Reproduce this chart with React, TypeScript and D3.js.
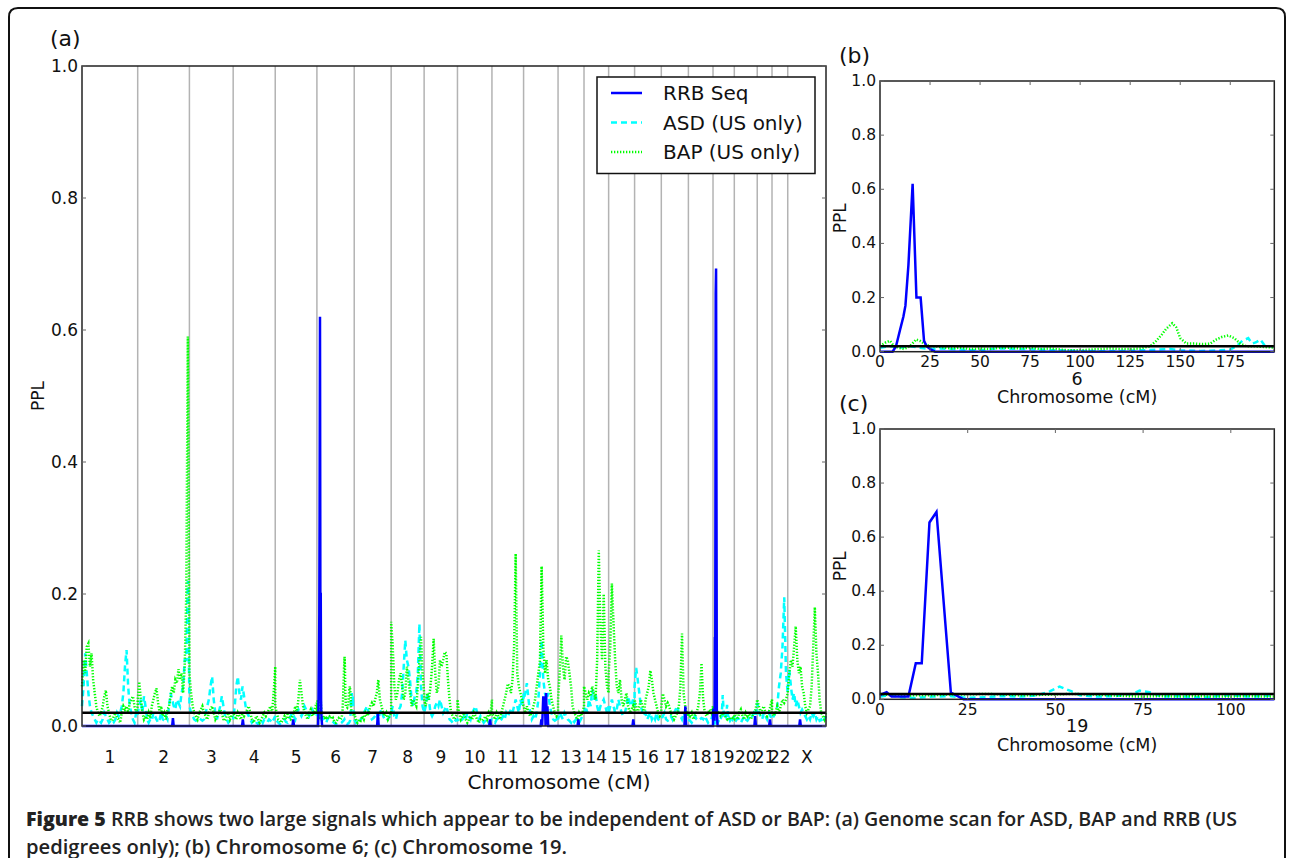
import React from 'react';
import * as d3 from 'd3';

// ---------------- DATA ----------------
const CHROMS = ['1','2','3','4','5','6','7','8','9','10','11','12','13','14','15','16','17','18','19','20','21','22','X'];
const CHROM_LEN = [294,273,231,222,220,197,195,174,176,182,167,182,137,130,137,141,143,130,112.4,121,78,83,202];
const Y_TICKS = [0, 0.2, 0.4, 0.6, 0.8, 1.0];
const B_XTICKS = [0, 25, 50, 75, 100, 125, 150, 175];
const C_XTICKS = [0, 25, 50, 75, 100];
const THRESHOLD = 0.02;
const SERIES = ['RRB Seq', 'ASD (US only)', 'BAP (US only)'];

// Chromosome 6 detail (panel b), cM / PPL
const CHR6_RRB_X = [0,6.3,8,10,11.7,12.7,14.2,16.3,18.2,20.3,22,23.3,25,27.5,197];
const CHR6_RRB_Y = [0,0,0.02,0.08,0.13,0.17,0.32,0.62,0.2,0.2,0.04,0.02,0.01,0,0];
const CHR6_BAP_X = [0,3,5,7,9,12,15,18,20,22,25,28,32,36,40,45,50,55,60,65,70,75,80,85,90,95,100,105,110,115,120,125,130,135,138,141,143,146,148,150,153,157,161,165,168,171,174,177,180,183,187,191,197];
const CHR6_BAP_Y = [0.02,0.035,0.04,0.02,0.015,0.01,0.02,0.045,0.04,0.03,0.02,0.02,0.015,0.012,0.015,0.01,0.012,0.01,0.015,0.015,0.012,0.015,0.01,0.012,0.008,0.005,0.005,0.008,0.01,0.012,0.01,0.01,0.012,0.02,0.04,0.065,0.085,0.105,0.09,0.05,0.03,0.03,0.028,0.03,0.045,0.055,0.06,0.05,0.03,0.02,0.02,0.018,0.015];
const CHR6_ASD_X = [0,5,10,15,20,25,30,40,50,55,60,70,80,90,100,110,120,130,140,145,150,160,170,175,178,181,184,186,188,190,192,194,197];
const CHR6_ASD_Y = [0.015,0.02,0.015,0.02,0.015,0.01,0.012,0.008,0.005,0.01,0.012,0.01,0.008,0.005,0.003,0.002,0.003,0.005,0.008,0.01,0.005,0.003,0.005,0.008,0.02,0.04,0.05,0.03,0.035,0.045,0.025,0.02,0.02];

// Chromosome 19 detail (panel c)
const CHR19_RRB_X = [0,1.9,3.3,8.1,10.2,11.9,14.1,16.1,20.2,23.8,112.4];
const CHR19_RRB_Y = [0.016,0.026,0.01,0.01,0.133,0.133,0.654,0.693,0.025,0,0];
const CHR19_BAP_X = [0,3,6,10,15,20,25,30,35,40,45,50,55,60,65,70,75,80,85,90,95,100,105,110,112.4];
const CHR19_BAP_Y = [0.02,0.015,0.012,0.015,0.015,0.018,0.018,0.02,0.018,0.015,0.016,0.018,0.02,0.018,0.015,0.012,0.01,0.012,0.01,0.012,0.01,0.01,0.012,0.01,0.01];
const CHR19_ASD_X = [0,3,6,10,15,20,25,30,35,40,45,48.5,51.2,54.5,57,62,67,72,74,77.5,80,85,90,95,100,105,110,112.4];
const CHR19_ASD_Y = [0.01,0.015,0.008,0.005,0.01,0.012,0.005,0.008,0.012,0.01,0.015,0.03,0.047,0.03,0.015,0.01,0.012,0.02,0.032,0.025,0.01,0.012,0.008,0.01,0.015,0.01,0.012,0.015];

// Genome scan (panel a): values evenly spaced along each chromosome (chr6, chr19 use detail above)
const BAP_A: number[][] = [
  [0.06,0.1,0.08,0.12,0.125,0.09,0.11,0.07,0.05,0.03,0.02,0.015,0.02,0.03,0.045,0.054,0.03,0.02,0.01,0.008,0.015,0.02,0.012,0.01,0.005,0.02,0.03,0.025,0.03,0.02,0.035,0.04,0.045,0.03,0.02,0.03],
  [0.04,0.067,0.04,0.02,0.01,0.015,0.01,0.02,0.012,0.03,0.04,0.05,0.057,0.035,0.02,0.03,0.015,0.02,0.01,0.025,0.03,0.045,0.06,0.05,0.07,0.065,0.086,0.07,0.08,0.05,0.09,0.2,0.59,0.09],
  [0.08,0.05,0.03,0.02,0.015,0.01,0.02,0.025,0.03,0.02,0.015,0.01,0.02,0.025,0.03,0.02,0.01,0.015,0.02,0.025,0.02,0.01,0.008,0.015,0.02,0.01,0.015,0.02],
  [0.02,0.015,0.01,0.02,0.015,0.01,0.02,0.015,0.02,0.025,0.03,0.02,0.01,0.005,0.01,0.015,0.01,0.005,0.01,0.015,0.02,0.015,0.02,0.025,0.03,0.02,0.05,0.09],
  [0.03,0.02,0.01,0.008,0.005,0.01,0.015,0.01,0.02,0.012,0.01,0.015,0.02,0.03,0.02,0.04,0.07,0.05,0.03,0.02,0.015,0.01,0.02,0.025,0.015,0.02,0.03,0.035],
  [],
  [0.02,0.01,0.005,0.01,0.008,0.015,0.01,0.02,0.015,0.02,0.03,0.035,0.03,0.04,0.05,0.07,0.04,0.03,0.02,0.015,0.02,0.01,0.015,0.02],
  [0.158,0.12,0.06,0.04,0.05,0.07,0.08,0.06,0.04,0.05,0.09,0.07,0.05,0.03,0.04,0.035,0.03,0.06,0.1,0.135,0.08,0.05],
  [0.04,0.03,0.05,0.04,0.06,0.09,0.132,0.08,0.05,0.06,0.1,0.09,0.1,0.112,0.11,0.07,0.04,0.02,0.015,0.01,0.015,0.02],
  [0.04,0.02,0.01,0.015,0.02,0.01,0.005,0.01,0.015,0.01,0.02,0.015,0.01,0.005,0.01,0.008,0.01,0.015,0.01,0.02,0.015,0.04],
  [0.02,0.015,0.01,0.02,0.015,0.01,0.02,0.03,0.04,0.05,0.064,0.06,0.05,0.07,0.12,0.261,0.08,0.06,0.05,0.04,0.03],
  [0.03,0.02,0.03,0.02,0.015,0.02,0.03,0.04,0.06,0.08,0.1,0.242,0.12,0.08,0.1,0.07,0.06,0.04,0.03,0.02,0.015,0.02],
  [0.04,0.08,0.137,0.09,0.07,0.105,0.1,0.08,0.06,0.03,0.02,0.015,0.01,0.02,0.015,0.02,0.03],
  [0.06,0.05,0.04,0.05,0.045,0.06,0.05,0.04,0.1,0.266,0.15,0.1,0.2,0.09,0.06,0.05],
  [0.08,0.12,0.216,0.155,0.1,0.06,0.05,0.07,0.04,0.03,0.04,0.05,0.03,0.02,0.025,0.03,0.02],
  [0.04,0.03,0.02,0.03,0.04,0.03,0.02,0.04,0.05,0.06,0.084,0.07,0.05,0.04,0.03,0.02,0.015,0.02],
  [0.03,0.049,0.04,0.03,0.035,0.03,0.02,0.015,0.01,0.015,0.02,0.03,0.06,0.14,0.05,0.03,0.02,0.015],
  [0.02,0.015,0.02,0.01,0.015,0.02,0.03,0.05,0.095,0.04,0.02,0.015,0.02,0.025,0.02,0.03],
  [],
  [0.02,0.015,0.01,0.02,0.025,0.015,0.01,0.02,0.015,0.02,0.01,0.015,0.02,0.025,0.04],
  [0.04,0.03,0.02,0.025,0.03,0.02,0.015,0.02,0.03,0.04],
  [0.02,0.015,0.02,0.03,0.02,0.03,0.04,0.035,0.04,0.05],
  [0.05,0.08,0.1,0.09,0.12,0.151,0.1,0.08,0.09,0.06,0.05,0.03,0.02,0.025,0.03,0.06,0.12,0.18,0.11,0.08,0.04,0.02,0.015,0.01,0.02],
];
const ASD_A: number[][] = [
  [0.03,0.06,0.11,0.08,0.05,0.03,0.02,0.015,0.01,0.005,0.01,0.008,0.005,0.01,0.02,0.015,0.01,0.005,0.008,0.01,0.006,0.01,0.02,0.015,0.02,0.03,0.05,0.09,0.115,0.06,0.03,0.02,0.01,0.005,0.02,0.015],
  [0.02,0.03,0.04,0.02,0.045,0.03,0.01,0.005,0.01,0.008,0.02,0.015,0.01,0.005,0.01,0.02,0.01,0.008,0.015,0.01,0.03,0.05,0.04,0.03,0.025,0.04,0.035,0.03,0.05,0.06,0.1,0.1,0.22,0.04],
  [0.03,0.02,0.015,0.01,0.008,0.01,0.012,0.01,0.008,0.01,0.02,0.03,0.04,0.06,0.075,0.04,0.02,0.01,0.02,0.03,0.045,0.03,0.015,0.01,0.005,0.008,0.01,0.015],
  [0.01,0.03,0.06,0.075,0.05,0.04,0.06,0.045,0.03,0.02,0.015,0.01,0.005,0.008,0.01,0.005,0.003,0.008,0.01,0.005,0.01,0.008,0.006,0.01,0.008,0.005,0.01,0.015],
  [0.01,0.008,0.005,0.003,0.005,0.008,0.01,0.006,0.005,0.01,0.015,0.02,0.015,0.01,0.02,0.025,0.02,0.015,0.02,0.03,0.025,0.02,0.015,0.02,0.025,0.02,0.015,0.02],
  [],
  [0.01,0.005,0.008,0.005,0.01,0.012,0.02,0.025,0.03,0.02,0.015,0.01,0.012,0.015,0.02,0.01,0.02,0.025,0.015,0.01,0.008,0.01,0.015,0.02],
  [0.02,0.03,0.015,0.01,0.02,0.025,0.03,0.05,0.09,0.13,0.1,0.09,0.07,0.04,0.03,0.045,0.05,0.08,0.155,0.06,0.03,0.02],
  [0.02,0.03,0.05,0.04,0.02,0.015,0.02,0.03,0.035,0.03,0.04,0.03,0.02,0.025,0.03,0.02,0.01,0.008,0.005,0.01,0.008,0.01],
  [0.01,0.005,0.008,0.01,0.015,0.01,0.02,0.015,0.01,0.02,0.025,0.03,0.02,0.01,0.015,0.01,0.005,0.008,0.01,0.005,0.008,0.01],
  [0.01,0.008,0.005,0.01,0.012,0.008,0.01,0.015,0.01,0.02,0.015,0.02,0.025,0.02,0.03,0.04,0.03,0.02,0.04,0.03,0.05],
  [0.04,0.05,0.065,0.04,0.02,0.01,0.015,0.01,0.02,0.04,0.08,0.13,0.07,0.05,0.04,0.05,0.03,0.02,0.01,0.008,0.01,0.015],
  [0.01,0.02,0.015,0.01,0.02,0.015,0.01,0.008,0.005,0.01,0.006,0.01,0.008,0.005,0.01,0.015,0.02],
  [0.02,0.03,0.02,0.04,0.03,0.055,0.04,0.05,0.03,0.02,0.03,0.035,0.04,0.03,0.02,0.03],
  [0.02,0.03,0.04,0.03,0.02,0.025,0.04,0.03,0.02,0.015,0.02,0.03,0.045,0.035,0.03,0.04,0.03],
  [0.06,0.088,0.07,0.05,0.03,0.02,0.015,0.02,0.01,0.015,0.02,0.01,0.015,0.01,0.02,0.01,0.008,0.01],
  [0.01,0.015,0.02,0.01,0.008,0.01,0.015,0.01,0.02,0.025,0.03,0.02,0.015,0.01,0.02,0.015,0.01,0.02],
  [0.01,0.008,0.005,0.01,0.015,0.01,0.008,0.01,0.012,0.01,0.015,0.01,0.005,0.008,0.01,0.02],
  [],
  [0.01,0.008,0.012,0.01,0.005,0.01,0.015,0.01,0.008,0.012,0.01,0.015,0.02,0.015,0.035],
  [0.035,0.02,0.015,0.01,0.02,0.015,0.01,0.02,0.015,0.01],
  [0.01,0.015,0.02,0.03,0.06,0.08,0.12,0.195,0.08,0.05],
  [0.06,0.085,0.06,0.04,0.05,0.03,0.04,0.03,0.02,0.025,0.02,0.015,0.01,0.015,0.01,0.02,0.015,0.02,0.01,0.015,0.008,0.01,0.005,0.01,0.015],
];
// RRB in panel a: [cM, PPL] pairs per chromosome (chr6, chr19 use detail above)
const RRB_A: number[][][] = [
  [[0,0],[294,0]],
  [[0,0],[182,0],[186,0.012],[190,0],[273,0]],
  [[0,0],[231,0]],
  [[0,0],[47,0],[51,0.01],[55,0],[222,0]],
  [[0,0],[91,0],[95,0.01],[99,0],[220,0]],
  [],
  [[0,0],[121,0],[125,0.02],[129,0],[195,0]],
  [[0,0],[174,0]],
  [[0,0],[176,0]],
  [[0,0],[168,0],[172,0.01],[176,0],[182,0]],
  [[0,0],[167,0]],
  [[0,0],[90,0],[94,0.01],[98,0],[104,0.045],[108,0.02],[112,0.045],[116,0],[119,0.05],[122,0.01],[126,0.03],[130,0],[182,0]],
  [[0,0],[103,0],[107,0.01],[111,0],[137,0]],
  [[0,0],[130,0]],
  [[0,0],[126,0],[130,0.01],[134,0],[137,0]],
  [[0,0],[141,0]],
  [[0,0],[122,0],[127,0.03],[131,0],[143,0]],
  [[0,0],[130,0]],
  [],
  [[0,0],[106,0],[110,0.015],[114,0],[121,0]],
  [[0,0],[63,0],[67,0.01],[71,0],[78,0]],
  [[0,0],[83,0]],
  [[0,0],[61,0],[65,0.01],[69,0],[202,0]],
];

const CAPTION_1_BOLD = 'Figure 5';
const CAPTION_1 = ' RRB shows two large signals which appear to be independent of ASD or BAP: (a) Genome scan for ASD, BAP and RRB (US';
const CAPTION_2 = 'pedigrees only); (b) Chromosome 6; (c) Chromosome 19.';

// ---------------- STYLE ----------------
const COL = { rrb: '#0000ff', asd: '#00ffff', bap: '#00ff00' };
const DASH = { rrb: undefined as string | undefined, asd: '6,4', bap: '1.3,1.7' };
const LW = 2.5;
const FONT = 'DejaVu Sans, sans-serif';

const A = { left: 82, right: 826, top: 66, bottom: 726 };
const B = { left: 880, right: 1274.3, top: 81, bottom: 351.7 };
const C = { left: 880, right: 1274.3, top: 429, bottom: 699.3 };

const zip = (xs: number[], ys: number[]) => xs.map((x, i) => [x, ys[i]] as [number, number]);

function Zoom({ box, len, ticks, rrb, asd, bap, label, chromLabel }: any) {
  const x = d3.scaleLinear().domain([0, len]).range([box.left, box.right]);
  const y = d3.scaleLinear().domain([0, 1]).range([box.bottom, box.top]);
  const line = d3.line<[number, number]>().x(d => x(d[0])).y(d => y(d[1]));
  const cx = (box.left + box.right) / 2;
  return (
    <g fontFamily={FONT} fill="#111">
      <rect x={box.left} y={box.top} width={box.right - box.left} height={box.bottom - box.top} fill="#fff" />
      <path d={line(asd) || ''} fill="none" stroke={COL.asd} strokeWidth={LW} strokeDasharray={DASH.asd} />
      <path d={line(bap) || ''} fill="none" stroke={COL.bap} strokeWidth={LW} strokeDasharray={DASH.bap} />
      <path d={line(rrb) || ''} fill="none" stroke={COL.rrb} strokeWidth={LW} />
      <line x1={box.left} x2={box.right} y1={y(THRESHOLD)} y2={y(THRESHOLD)} stroke="#000" strokeWidth={2.5} />
      <rect x={box.left} y={box.top} width={box.right - box.left} height={box.bottom - box.top} fill="none" stroke="#222" strokeWidth={1.5} />
      {Y_TICKS.map(t => (
        <g key={'y' + t}>
          <line x1={box.left} x2={box.left + 4} y1={y(t)} y2={y(t)} stroke="#666" />
          <line x1={box.right} x2={box.right - 4} y1={y(t)} y2={y(t)} stroke="#666" />
          <text x={box.left - 4} y={y(t)} textAnchor="end" dominantBaseline="central" fontSize={15.5}>{t.toFixed(1)}</text>
        </g>
      ))}
      {ticks.map((t: number) => (
        <g key={'x' + t}>
          <line x1={x(t)} x2={x(t)} y1={box.bottom} y2={box.bottom - 4} stroke="#666" />
          <line x1={x(t)} x2={x(t)} y1={box.top} y2={box.top + 4} stroke="#666" />
          <text x={x(t)} y={box.bottom + 10.5} textAnchor="middle" dominantBaseline="central" fontSize={15.5}>{t}</text>
        </g>
      ))}
      <text x={cx} y={box.bottom + 27} textAnchor="middle" dominantBaseline="central" fontSize={17.5}>{chromLabel}</text>
      <text x={cx} y={box.bottom + 45.5} textAnchor="middle" dominantBaseline="central" fontSize={17.5}>Chromosome (cM)</text>
      <text transform={`translate(${box.left - 40},${(box.top + box.bottom) / 2 + 2}) rotate(-90)`} textAnchor="middle" dominantBaseline="central" fontSize={17}>PPL</text>
      <text x={box.left - 41} y={box.top - 26} dominantBaseline="central" fontSize={22}>{label}</text>
    </g>
  );
}

export default function App() {
  const starts = [0, ...d3.cumsum(CHROM_LEN)];
  const total = starts[CHROM_LEN.length];
  const xA = d3.scaleLinear().domain([0, total]).range([A.left, A.right]);
  const yA = d3.scaleLinear().domain([0, 1]).range([A.bottom, A.top]);
  const lineA = d3.line<[number, number]>().x(d => xA(d[0])).y(d => yA(d[1]));

  const spread = (vals: number[], len: number) => vals.map((v, i) => [(i / (vals.length - 1)) * len, v] as [number, number]);
  const genome = (kind: 'rrb' | 'asd' | 'bap') => {
    const pts: [number, number][] = [];
    CHROM_LEN.forEach((len, c) => {
      let local: [number, number][];
      if (c === 5) local = kind === 'rrb' ? zip(CHR6_RRB_X, CHR6_RRB_Y) : kind === 'asd' ? zip(CHR6_ASD_X, CHR6_ASD_Y) : zip(CHR6_BAP_X, CHR6_BAP_Y);
      else if (c === 18) local = kind === 'rrb' ? zip(CHR19_RRB_X, CHR19_RRB_Y) : kind === 'asd' ? zip(CHR19_ASD_X, CHR19_ASD_Y) : zip(CHR19_BAP_X, CHR19_BAP_Y);
      else if (kind === 'rrb') local = RRB_A[c].map(p => [p[0], p[1]] as [number, number]);
      else local = spread(kind === 'asd' ? ASD_A[c] : BAP_A[c], len);
      local.forEach(p => pts.push([starts[c] + p[0], p[1]]));
    });
    return pts;
  };

  const legendX = 597, legendY = 77;
  return (
    <svg width={1290} height={858} style={{ position: 'absolute', left: 0, top: 0, background: '#fff' }} fontFamily={FONT}>
      <rect width={1290} height={858} fill="#fff" />
      <path d="M9,880 L9,17 Q9,8 18,8 L1276,8 Q1285,8 1285,17 L1285,880" fill="none" stroke="#111" strokeWidth={2} />

      {/* Panel a */}
      <g>
        {starts.slice(1, CHROM_LEN.length).map((s, i) => (
          <line key={'g' + i} x1={xA(s)} x2={xA(s)} y1={A.top} y2={A.bottom} stroke="#b3b3b3" strokeWidth={1.5} />
        ))}
        <path d={lineA(genome('asd')) || ''} fill="none" stroke={COL.asd} strokeWidth={LW} strokeDasharray={DASH.asd} />
        <path d={lineA(genome('bap')) || ''} fill="none" stroke={COL.bap} strokeWidth={LW} strokeDasharray={DASH.bap} />
        <path d={lineA(genome('rrb')) || ''} fill="none" stroke={COL.rrb} strokeWidth={LW} />
        <line x1={A.left} x2={A.right} y1={yA(THRESHOLD)} y2={yA(THRESHOLD)} stroke="#000" strokeWidth={2.5} />
        <rect x={A.left} y={A.top} width={A.right - A.left} height={A.bottom - A.top} fill="none" stroke="#222" strokeWidth={1.5} />
        {Y_TICKS.map(t => (
          <g key={'ya' + t}>
            <line x1={A.left} x2={A.left + 4} y1={yA(t)} y2={yA(t)} stroke="#666" />
            <line x1={A.right} x2={A.right - 4} y1={yA(t)} y2={yA(t)} stroke="#666" />
            <text x={A.left - 4} y={yA(t)} textAnchor="end" dominantBaseline="central" fontSize={17} fill="#111">{t.toFixed(1)}</text>
          </g>
        ))}
        {CHROMS.map((c, i) => (
          <text key={'c' + c} x={xA(starts[i] + CHROM_LEN[i] / 2)} y={757} textAnchor="middle" dominantBaseline="central" fontSize={17} fill="#111">{c}</text>
        ))}
        <text x={559} y={782} textAnchor="middle" dominantBaseline="central" fontSize={20} fill="#111">Chromosome (cM)</text>
        <text transform={`translate(38,396) rotate(-90)`} textAnchor="middle" dominantBaseline="central" fontSize={17} fill="#111">PPL</text>
        <text x={50} y={38} dominantBaseline="central" fontSize={22} fill="#111">(a)</text>

        {/* legend */}
        <rect x={legendX} y={legendY} width={218} height={96.5} fill="#fff" stroke="#111" strokeWidth={1.5} />
        {(['rrb', 'asd', 'bap'] as const).map((k, i) => (
          <g key={k}>
            <line x1={legendX + 14} x2={legendX + 45} y1={legendY + 16 + i * 29.5} y2={legendY + 16 + i * 29.5} stroke={COL[k]} strokeWidth={LW} strokeDasharray={DASH[k]} />
            <text x={legendX + 66} y={legendY + 16 + i * 29.5} dominantBaseline="central" fontSize={20} fill="#111">{SERIES[i]}</text>
          </g>
        ))}
      </g>

      <Zoom box={B} len={CHROM_LEN[5]} ticks={B_XTICKS} label="(b)" chromLabel={CHROMS[5]}
        rrb={zip(CHR6_RRB_X, CHR6_RRB_Y)} asd={zip(CHR6_ASD_X, CHR6_ASD_Y)} bap={zip(CHR6_BAP_X, CHR6_BAP_Y)} />
      <Zoom box={C} len={CHROM_LEN[18]} ticks={C_XTICKS} label="(c)" chromLabel={CHROMS[18]}
        rrb={zip(CHR19_RRB_X, CHR19_RRB_Y)} asd={zip(CHR19_ASD_X, CHR19_ASD_Y)} bap={zip(CHR19_BAP_X, CHR19_BAP_Y)} />

      {/* caption */}
      <text x={26} y={819} dominantBaseline="central" fontFamily="Open Sans, sans-serif" fontSize={19} fontWeight={600} fill="#222"
        textLength={1211} lengthAdjust="spacingAndGlyphs">
        <tspan fontWeight={800}>{CAPTION_1_BOLD}</tspan>{CAPTION_1}
      </text>
      <text x={26} y={846.5} dominantBaseline="central" fontFamily="Open Sans, sans-serif" fontSize={19} fontWeight={600} fill="#222"
        textLength={541} lengthAdjust="spacingAndGlyphs">{CAPTION_2}</text>
    </svg>
  );
}
